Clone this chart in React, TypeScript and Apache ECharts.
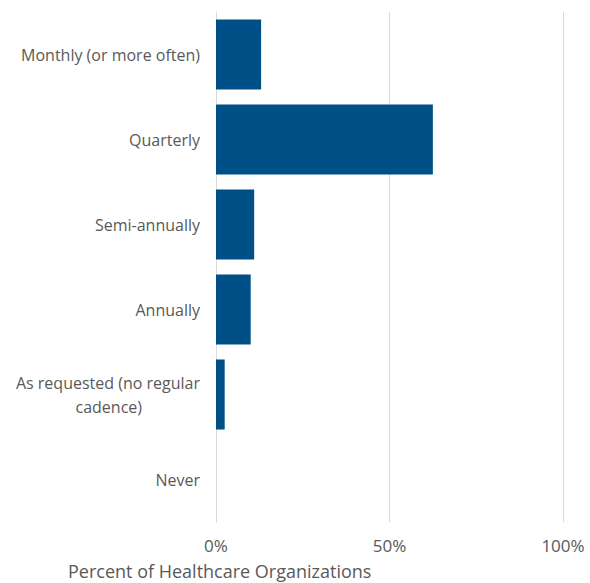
import React, { useEffect, useRef } from "react";
import * as echarts from "echarts";

const categories = [
  "Monthly (or more often)",
  "Quarterly",
  "Semi-annually",
  "Annually",
  "As requested (no regular\ncadence)",
  "Never",
];
const values = [13, 62.5, 11, 10, 2.5, 0];
const xTicks = [0, 50, 100];
const axisTitle = "Percent of Healthcare Organizations";

const FONT = "'Open Sans', sans-serif";
const TEXT = "#595959";

export default function App() {
  const ref = useRef<HTMLDivElement>(null);
  useEffect(() => {
    if (!ref.current) return;
    const chart = echarts.init(ref.current, undefined, { renderer: "svg" });
    chart.setOption({
      animation: false,
      grid: { left: 216, right: 27, top: 12, bottom: 61, containLabel: false },
      xAxis: {
        type: "value",
        min: xTicks[0],
        max: xTicks[xTicks.length - 1],
        interval: 50,
        axisLine: { show: false },
        axisTick: { show: false },
        splitLine: { show: true, lineStyle: { color: "#d9d9d9", width: 1 } },
        axisLabel: {
          formatter: (v: number) => `${v}%`,
          color: TEXT,
          fontFamily: FONT,
          fontSize: 17,
          margin: 15,
        },
      },
      yAxis: {
        type: "category",
        data: categories,
        inverse: true,
        axisLine: { show: true, lineStyle: { color: "#d9d9d9" } },
        axisTick: { show: false },
        axisLabel: {
          color: TEXT,
          fontFamily: FONT,
          fontSize: 16,
          margin: 16,
          lineHeight: 24,
          formatter: (v: string) => {
            const parts = v.split("\n");
            if (parts.length < 2) return v;
            return `{a|${parts[0]}}\n{b|${parts[1]}}`;
          },
          rich: {
            a: { color: TEXT, fontFamily: FONT, fontSize: 16, lineHeight: 24 },
            b: {
              color: TEXT,
              fontFamily: FONT,
              fontSize: 16,
              lineHeight: 24,
              padding: [0, 58, 0, 0],
            },
          },
        },
      },
      series: [
        {
          type: "bar",
          data: values,
          barCategoryGap: "17.6%",
          itemStyle: { color: "#005088" },
        },
      ],
      graphic: [
        {
          type: "text",
          left: 68,
          top: 562,
          style: {
            text: axisTitle,
            fill: TEXT,
            font: `18px ${FONT}`,
          },
        },
      ],
    });
    return () => chart.dispose();
  }, []);
  return (
    <div
      ref={ref}
      style={{ position: "fixed", left: 0, top: 0, width: 590, height: 583, background: "#fff" }}
    />
  );
}
